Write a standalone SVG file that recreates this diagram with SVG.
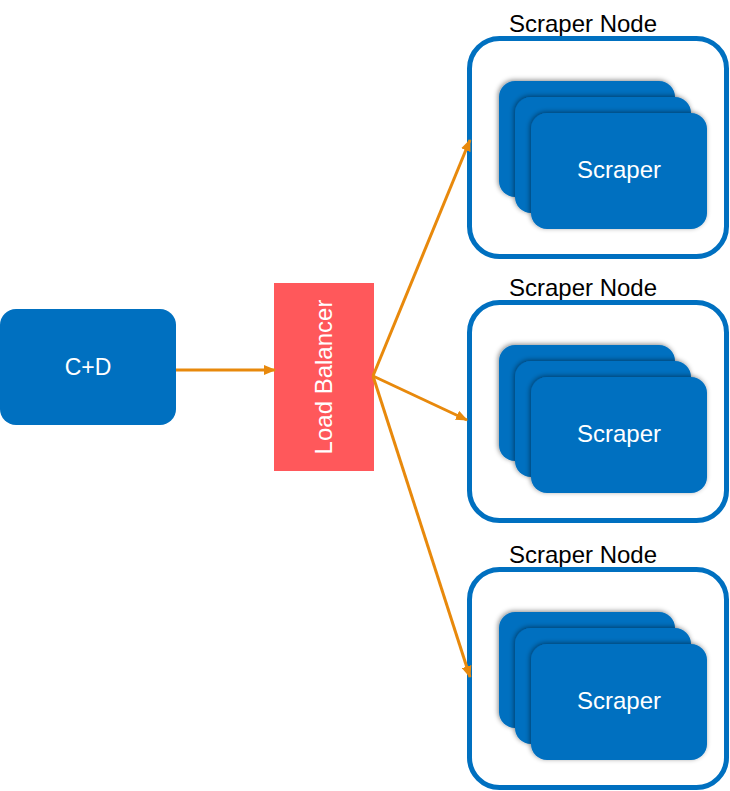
<svg xmlns="http://www.w3.org/2000/svg" width="730" height="791" viewBox="0 0 730 791">
<style>
.box{fill:#0070C0;}
.card{fill:#0070C0;filter:url(#sh);}
.cont{fill:#ffffff;stroke:#0070C0;stroke-width:5;}
.wt{fill:#ffffff;font-family:"Liberation Sans",Arial,sans-serif;text-anchor:middle;}
.bt{fill:#000000;font-family:"Liberation Sans",Arial,sans-serif;font-size:24px;text-anchor:middle;}
.conn{stroke:#E8890C;stroke-width:3;fill:none;marker-end:url(#ah);}
</style>
<defs>
<marker id="ah" markerWidth="12" markerHeight="10" refX="11" refY="5" orient="auto" markerUnits="userSpaceOnUse">
<path d="M0,0 L12,5 L0,10 Z" fill="#E8890C"/>
</marker>
<filter id="sh" x="-20%" y="-20%" width="140%" height="140%">
<feDropShadow dx="-1" dy="-1" stdDeviation="2.5" flood-color="#000000" flood-opacity="0.45"/>
</filter>
</defs>
<rect width="730" height="791" fill="#ffffff"/>
<g id="cd">
<rect class="box" x="0" y="309" width="176" height="116" rx="16"/>
<text class="wt" x="88" y="375" font-size="23">C+D</text>
</g>
<g id="lb">
<rect x="274" y="283" width="100" height="188" fill="#FF585B"/>
<text class="wt" font-size="24" transform="translate(332,377) rotate(-90)">Load Balancer</text>
</g>
<g id="node1">
<text class="bt" x="583" y="32">Scraper Node</text>
<rect class="cont" x="469.5" y="38.5" width="257" height="218" rx="30"/>
<rect class="card" x="499" y="81" width="176" height="116" rx="16"/>
<rect class="card" x="515" y="97" width="176" height="116" rx="16"/>
<rect class="card" x="531" y="113" width="176" height="116" rx="16"/>
<text class="wt" x="619" y="178" font-size="24">Scraper</text>
</g>
<g id="node2">
<text class="bt" x="583" y="296">Scraper Node</text>
<rect class="cont" x="469.5" y="302.5" width="257" height="218" rx="30"/>
<rect class="card" x="499" y="345" width="176" height="116" rx="16"/>
<rect class="card" x="515" y="361" width="176" height="116" rx="16"/>
<rect class="card" x="531" y="377" width="176" height="116" rx="16"/>
<text class="wt" x="619" y="442" font-size="24">Scraper</text>
</g>
<g id="node3">
<text class="bt" x="583" y="563">Scraper Node</text>
<rect class="cont" x="469.5" y="569.5" width="257" height="218" rx="30"/>
<rect class="card" x="499" y="612" width="176" height="116" rx="16"/>
<rect class="card" x="515" y="628" width="176" height="116" rx="16"/>
<rect class="card" x="531" y="644" width="176" height="116" rx="16"/>
<text class="wt" x="619" y="709" font-size="24">Scraper</text>
</g>
<g id="connectors">
<line class="conn" x1="176" y1="370" x2="275" y2="370"/>
<line class="conn" x1="373" y1="376" x2="470" y2="140"/>
<line class="conn" x1="373" y1="376" x2="467" y2="420"/>
<line class="conn" x1="373" y1="376" x2="470" y2="677"/>
</g>
</svg>
